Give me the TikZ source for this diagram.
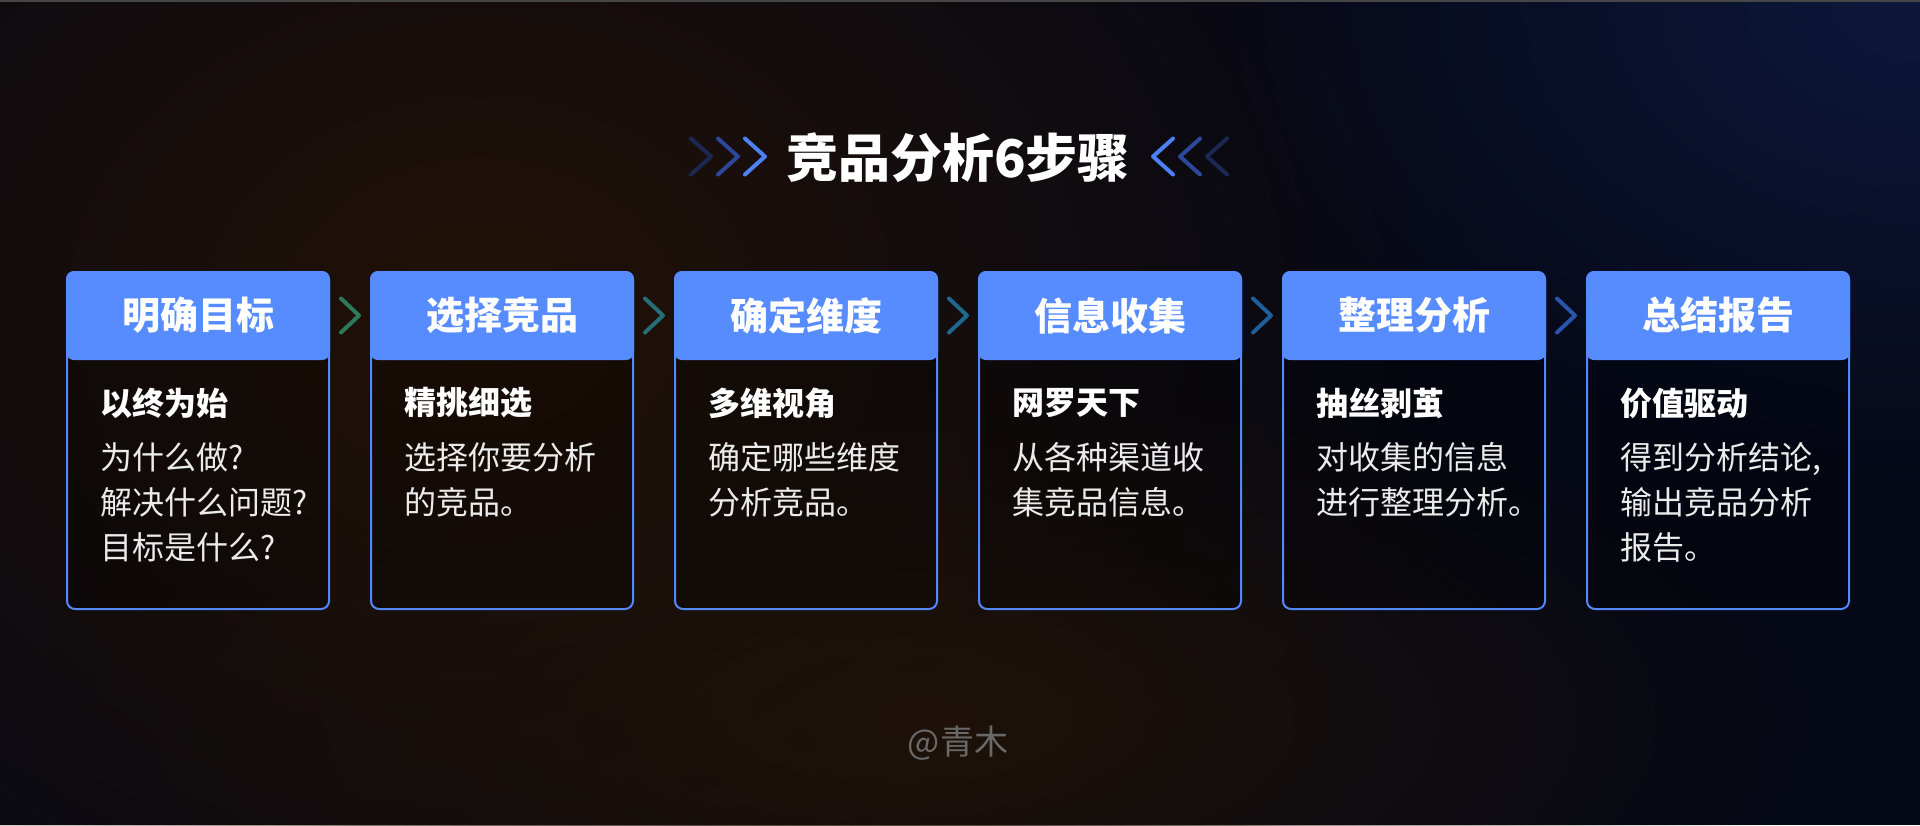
\documentclass[tikz,border=0pt]{standalone}
\usepackage{fontspec}
\setmainfont{Noto Sans CJK SC}
\usepackage{xcolor}
\usetikzlibrary{calc}
\usetikzlibrary{fadings}

\definecolor{bgnavy}{RGB}{5,8,22}
\definecolor{glowbrown}{RGB}{34,18,6}
\definecolor{glowwarm}{RGB}{30,18,9}
\definecolor{glowblue}{RGB}{14,24,60}
\definecolor{headblue}{RGB}{86,140,255}
\definecolor{boxblue}{RGB}{82,136,248}
\definecolor{chevA}{RGB}{28,40,82}
\definecolor{chevB}{RGB}{45,72,155}
\definecolor{chevC}{RGB}{78,128,245}
\definecolor{linkA}{RGB}{44,122,92}
\definecolor{linkB}{RGB}{37,110,120}
\definecolor{linkC}{RGB}{31,103,140}
\definecolor{linkD}{RGB}{33,95,155}
\definecolor{linkE}{RGB}{40,84,170}
\definecolor{markgray}{RGB}{105,105,105}

\tikzfading[name=glowfade, inner color=transparent!0, outer color=transparent!100]

\tikzstyle{stepbox} = [draw=boxblue, line width=2pt, rounded corners=8pt, fill=black, fill opacity=0.25, minimum width=262pt, minimum height=337pt, inner sep=0pt, outer sep=0pt]
\tikzstyle{headbox} = [fill=headblue, rounded corners=8pt, minimum width=264pt, minimum height=89pt, inner sep=0pt, outer sep=0pt, text=white, font=\fontsize{38}{44}\selectfont\bfseries]
\tikzstyle{subtext} = [anchor=west, inner sep=0pt, text=white, font=\fontsize{32}{36}\selectfont\bfseries]
\tikzstyle{bodytext} = [anchor=north west, inner sep=0pt, text=white!92!black, align=left, font=\fontsize{32}{45}\selectfont]
\tikzstyle{titletext} = [inner sep=0pt, text=white, font=\fontsize{52}{60}\selectfont\bfseries]
\tikzstyle{marktext} = [inner sep=0pt, text=markgray, font=\fontsize{34}{40}\selectfont]
\tikzstyle{chev} = [line width=4pt, line cap=round, line join=round]

\begin{document}
\begin{tikzpicture}[x={(1pt,0pt)},y={(0pt,-1pt)}]
\useasboundingbox (0,0) rectangle (1920,825);

% background
\begin{scope}
\clip (0,0) rectangle (1920,825);
\fill[bgnavy] (0,0) rectangle (1920,825);
\fill[glowbrown, path fading=glowfade] (480,320) ellipse (1000pt and 800pt);
\fill[glowwarm, path fading=glowfade] (930,720) ellipse (900pt and 360pt);
\fill[glowblue, path fading=glowfade] (1920,0) ellipse (700pt and 500pt);
\fill[gray!55!black] (0,0) rectangle (1920,1.5);
\end{scope}

% title
\node[titletext] (title) at (958,158) {竞品分析6步骤};
\foreach \k/\col in {0/chevC,1/chevB,2/chevA} {
  \coordinate (lt\k) at ($(title.west)+(-21-27*\k,-1.5)$);
  \draw[chev,\col] ($(lt\k)+(-20,-18)$) -- (lt\k) -- ($(lt\k)+(-20,18)$);
  \coordinate (rt\k) at ($(title.east)+(23+27*\k,-1.5)$);
  \draw[chev,\col] ($(rt\k)+(20,-18)$) -- (rt\k) -- ($(rt\k)+(20,18)$);
}

% steps
\foreach \i/\headtxt/\subtxt/\bodytxt in {
  1/明确目标/以终为始/{为什么做?\\解决什么问题?\\目标是什么?},
  2/选择竞品/精挑细选/{选择你要分析\\的竞品。},
  3/确定维度/多维视角/{确定哪些维度\\分析竞品。},
  4/信息收集/网罗天下/{从各种渠道收\\集竞品信息。},
  5/整理分析/抽丝剥茧/{对收集的信息\\进行整理分析。},
  6/总结报告/价值驱动/{得到分析结论,\\输出竞品分析\\报告。}} {
  \pgfmathsetmacro{\bx}{198+304*(\i-1)}
  \node[stepbox] (box\i) at (\bx,440.5) {};
  \node[headbox, anchor=north, yshift=1pt] (head\i) at (box\i.north) {\headtxt};
  \node[subtext] (sub\i) at ($(box\i.north west)+(33,131)$) {\subtxt};
  \node[bodytext] (txt\i) at ($(box\i.north west)+(33,170)$) {\bodytxt};
}

% links
\foreach \i/\j/\col in {1/2/linkA,2/3/linkB,3/4/linkC,4/5/linkD,5/6/linkE} {
  \coordinate (mid\i) at ($(head\i.east)!0.5!(head\j.west)$);
  \draw[chev,\col] ($(mid\i)+(-9,-17)$) -- ($(mid\i)+(9,0)$) -- ($(mid\i)+(-9,17)$);
}

\node[marktext] (mark) at (958,743) {@青木};

\end{tikzpicture}
\end{document}
